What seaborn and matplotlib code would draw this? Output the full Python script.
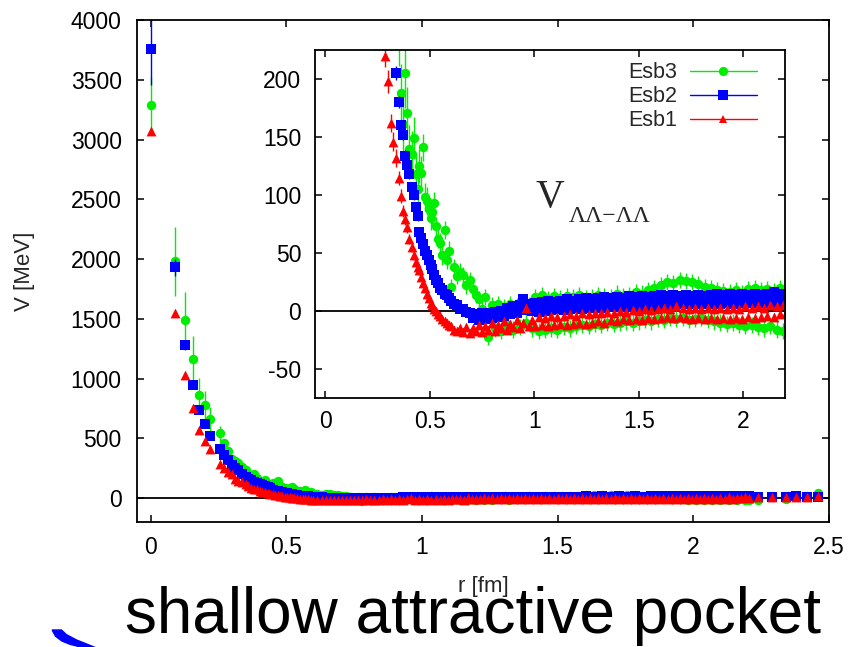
import matplotlib
matplotlib.use("Agg")
import matplotlib.pyplot as plt
from matplotlib.lines import Line2D
from matplotlib.patches import Polygon
import pandas as pd
import seaborn as sns

# ---------------- data ----------------
r_fm = [
    0.0, 0.09, 0.127, 0.156, 0.18, 0.201, 0.22, 0.255, 0.27, 0.285,
    0.30, 0.312, 0.324, 0.337, 0.35, 0.36, 0.371, 0.382, 0.392, 0.402,
    0.412, 0.422, 0.432, 0.441, 0.45, 0.459, 0.468, 0.477, 0.485, 0.494,
    0.503, 0.512, 0.52, 0.53, 0.54, 0.55, 0.56, 0.57, 0.58, 0.59,
    0.600, 0.615, 0.630, 0.645, 0.660, 0.675, 0.690, 0.705, 0.720, 0.735,
    0.750, 0.765, 0.780, 0.795, 0.810, 0.825, 0.840, 0.855, 0.870, 0.885,
    0.900, 0.915, 0.930, 0.945, 0.960, 0.975, 0.990,
    1.005, 1.020, 1.035, 1.050, 1.065, 1.080, 1.095, 1.110, 1.125, 1.140,
    1.155, 1.170, 1.185, 1.200, 1.215, 1.230, 1.245, 1.260, 1.275, 1.290,
    1.305, 1.320, 1.335, 1.350, 1.365, 1.380, 1.395, 1.410, 1.425, 1.440,
    1.455, 1.470, 1.485, 1.500, 1.515, 1.530, 1.545, 1.560, 1.575, 1.590,
    1.605, 1.620, 1.635, 1.650, 1.665, 1.680, 1.695, 1.710, 1.725, 1.740,
    1.755, 1.770, 1.785, 1.800, 1.815, 1.830, 1.845, 1.860, 1.875, 1.890,
    1.905, 1.920, 1.935, 1.950, 1.965, 1.980, 1.995, 2.010, 2.025, 2.040,
    2.055, 2.070, 2.085, 2.100, 2.115, 2.130, 2.145, 2.160, 2.175, 2.190,
    2.205,
    2.24, 2.29, 2.34, 2.38, 2.42, 2.46,
]

v_esb3 = [
    3286, 1980, 1492, 1160, 861, 777, 661, 541, 458, 395,
    330, 310, 290, 262, 236, 188, 161, 205, 171, 140,
    135, 149, 118, 105, 125, 119, 141, 98, 95, 88,
    80, 85, 93, 73, 62, 59, 48, 70, 44, 52,
    21, 38, 30, 34, 31, 22, 27, 19, 14, 10,
    2, 12, -22, 5, -15, 6, -17, 3, -12, 6,
    -16, 4, -14, 7, -10, 5, -15,
    12, -17, 14, -16, 10, -15, 13, -16, 11, -14,
    13, -15, 12, -13, 14, -12, 11, -13, 12, -11,
    14, -12, 13, -10, 12, -11, 15, -10, 13, -9,
    14, -10, 16, -9, 15, -8, 18, -9, 20, -7,
    22, -8, 25, -6, 24, -7, 27, -6, 26, -8,
    25, -7, 23, -6, 21, -8, 20, -9, 18, -10,
    17, -11, 16, -10, 18, -12, 15, -13, 19, -12,
    20, -14, 18, -15, 19, -13, 17, -16, 20, -17,
    -18,
    -15, 18, -10, 20, 15, 45,
]

v_esb2 = [
    3755, 1930, 1278, 950, 741, 619, 519, 408, 361, 318,
    280, 250, 232, 205, 180, 160, 152, 134, 126, 118,
    107, 100, 90, 82, 68, 63, 58, 52, 48, 44,
    40, 36, 31, 27, 24, 20, 18, 15, 14, 11,
    9, 6, 5, 2, 2, -1, -2, -6, -3, -8,
    -2, -7, -2, -6, -1, -5, 0, -4, 3, -3,
    4, -2, 5, 10, 1, 6, 0,
    7, -1, 8, 0, 9, 1, 8, 2, 9, 1,
    10, 2, 9, 3, 10, 2, 11, 3, 10, 4,
    11, 3, 12, 4, 11, 4, 12, 5, 11, 4,
    13, 5, 12, 4, 13, 5, 12, 6, 13, 5,
    14, 6, 13, 5, 14, 6, 13, 7, 14, 6,
    13, 6, 14, 7, 13, 6, 14, 7, 15, 6,
    14, 7, 15, 6, 14, 7, 15, 8, 14, 7,
    15, 8, 14, 7, 15, 8, 16, 7, 15, 8,
    15,
    10, 12, 8, 15, 10, 8,
]

v_esb1 = [
    3069, 1545, 1028, 750, 569, 480, 411, 283, 250, 220,
    198, 162, 146, 132, 115, 99, 86, 79, 72, 62,
    55, 48, 42, 38, 35, 29, 24, 20, 15, 11,
    7, 5, 2, 0, -3, -4, -7, -9, -10, -12,
    -13, -16, -17, -15, -18, -14, -19, -15, -17, -12,
    -18, -13, -16, -10, -17, -12, -15, -9, -16, -11,
    -14, -8, -15, -10, 3, -13, -8,
    -13, -5, -12, -6, -13, -4, -12, -5, -11, -4,
    -12, -3, -11, -4, -10, -2, -11, -3, -10, -2,
    -9, -2, -10, -1, -8, -2, -9, 0, -7, -1,
    -8, 1, -7, 0, -8, 2, -6, 1, -7, 2,
    -6, 3, -5, 2, -6, 4, -5, 3, -6, 2,
    -7, 3, -6, 2, -7, 3, -6, 2, -7, 3,
    -6, 2, -7, 3, -6, 2, -7, 4, -5, 3,
    -6, 4, -5, 3, -4, 5, -5, 4, -3, 5,
    -2,
    5, 8, 12, 13, 13, 16,
]

# error bars: individually read for the short-distance points, one typical
# size for the dense long-distance band
err_near_esb3 = [
    235, 290, 230, 200, 140, 120, 100, 60, 40, 30,
    30, 28, 25, 25, 25, 25, 25, 30, 22, 20,
    20, 18, 18, 15, 15, 15, 12, 12, 12, 10,
    10, 10, 10, 8, 8, 8, 8, 8, 8, 8,
]
err_far_esb3 = 7
err_near_esb2 = [
    300, 70, 40, 30, 20, 15, 12, 10, 8, 8,
    8, 6, 6, 6, 5, 5, 5, 5, 5, 4,
    4, 4, 4, 4, 4, 3, 3, 3, 3, 3,
    3, 3, 3, 3, 3, 3, 3, 3, 3, 3,
]
err_far_esb2 = 3
err_near_esb1 = [
    30, 20, 15, 12, 10, 10, 8, 10, 10, 10,
    10, 8, 8, 8, 6, 6, 5, 5, 5, 4,
    4, 4, 4, 4, 4, 3, 3, 3, 3, 3,
    3, 3, 3, 3, 3, 3, 3, 3, 3, 3,
]
err_far_esb1 = 3

series_names = ["Esb3", "Esb2", "Esb1"]
series_colors = ["#00ee00", "#0000ff", "#ff0000"]
series_markers = ["o", "s", "^"]

main_xticks = [0, 0.5, 1, 1.5, 2, 2.5]
main_xticklabels = ["0", "0.5", "1", "1.5", "2", "2.5"]
main_yticks = [0, 500, 1000, 1500, 2000, 2500, 3000, 3500, 4000]
main_yticklabels = ["0", "500", "1000", "1500", "2000", "2500", "3000", "3500", "4000"]
inset_xticks = [0, 0.5, 1, 1.5, 2]
inset_xticklabels = ["0", "0.5", "1", "1.5", "2"]
inset_yticks = [-50, 0, 50, 100, 150, 200]
inset_yticklabels = ["-50", "0", "50", "100", "150", "200"]

x_label = "r [fm]"
y_label = "V [MeV]"
inset_title_main = "V"
inset_title_sub = "\u039b\u039b\u2212\u039b\u039b"
caption = "shallow attractive pocket"

# ---------------- build table ----------------
frames = []
for name, vals, en, ef in zip(series_names, [v_esb3, v_esb2, v_esb1],
                              [err_near_esb3, err_near_esb2, err_near_esb1],
                              [err_far_esb3, err_far_esb2, err_far_esb1]):
    errs = en + [ef] * (len(r_fm) - len(en))
    frames.append(pd.DataFrame({"r": r_fm, "V": vals, "err": errs, "series": name}))
df = pd.concat(frames, ignore_index=True)

# ---------------- style ----------------
sns.set_theme(style="ticks")
plt.rcParams["font.family"] = ["Liberation Sans", "DejaVu Sans"]
plt.rcParams["axes.edgecolor"] = "black"
plt.rcParams["xtick.color"] = "black"
plt.rcParams["ytick.color"] = "black"

W, H = 852, 647
fig = plt.figure(figsize=(W / 100, H / 100), dpi=100)
fig.patch.set_facecolor("white")


def px_box(x0, y0, x1, y1):
    return [x0 / W, 1 - y1 / H, (x1 - x0) / W, (y1 - y0) / H]


ax = fig.add_axes(px_box(137, 20, 829, 522))
axin = fig.add_axes(px_box(315, 50, 785, 398))
axin.set_zorder(5)

sizes = {"o": 46, "s": 44, "^": 50}
TICK_FS = 16.5

for a in (ax, axin):
    a.axhline(0, color="black", lw=1.3, zorder=1)
    for i, (name, col, mk) in enumerate(zip(series_names, series_colors, series_markers)):
        sub = df[df["series"] == name]
        a.errorbar(sub["r"], sub["V"], yerr=sub["err"], fmt="none",
                   ecolor=col, elinewidth=1.0, capsize=0, zorder=2 + i * 0.2)
        sns.scatterplot(data=sub, x="r", y="V", ax=a, color=col, marker=mk,
                        s=sizes[mk], linewidth=0, legend=False, zorder=2.1 + i * 0.2)
    for sp in a.spines.values():
        sp.set_visible(True)
        sp.set_color("black")
        sp.set_linewidth(1.3)
    a.tick_params(direction="in", length=5, width=1.1, top=True, right=True,
                  labelsize=TICK_FS, colors="black")
    a.set_facecolor("white")

ax.set_xlim(-0.05, 2.5)
ax.set_ylim(-200, 4000)
ax.set_xticks(main_xticks, main_xticklabels)
ax.set_yticks(main_yticks, main_yticklabels)
ax.tick_params(axis="x", pad=10)
ax.tick_params(axis="y", pad=11)
ax.set_xlabel(x_label, fontsize=16)
ax.set_ylabel(y_label, fontsize=16)
ax.xaxis.set_label_coords(0.5, -0.108)
ax.yaxis.set_label_coords(-0.148, 0.5)

axin.set_xlim(-0.05, 2.2)
axin.set_ylim(-75, 225)
axin.set_xticks(inset_xticks, inset_xticklabels)
axin.set_yticks(inset_yticks, inset_yticklabels)
axin.tick_params(axis="x", pad=9)
axin.tick_params(axis="y", pad=10)
axin.set_xlabel("")
axin.set_ylabel("")

handles = [Line2D([], [], color=c, marker=m, lw=1.0,
                  markersize=6.6 if m != "^" else 6.0, markeredgewidth=0)
           for c, m in zip(series_colors, series_markers)]
axin.legend(handles, series_names, loc="upper right", bbox_to_anchor=(0.958, 0.99),
            borderaxespad=0, frameon=False, fontsize=15.5, markerfirst=False,
            handlelength=3.1, handletextpad=0.6, labelspacing=0.14)

fig.text(536 / W, 1 - 207 / H, inset_title_main, fontsize=28.5, zorder=20,
         family=["Liberation Serif", "DejaVu Serif"], va="baseline", ha="left")
fig.text(569 / W, 1 - 222 / H, inset_title_sub, fontsize=17, zorder=20,
         family=["Liberation Serif", "DejaVu Serif"], va="baseline", ha="left")

fig.text(125 / W, 1 - 633 / H, caption, fontsize=46, va="baseline", ha="left",
         color="black", zorder=20)

# blue swoosh fragment in the bottom-left corner
swoosh_px = [(61.7, 629.3), (66.7, 634.0), (76.7, 639.3), (86.7, 643.3), (95, 646.7),
             (101, 649), (80, 649), (76.7, 646.7), (70, 645), (61.7, 641.7),
             (55, 636.7), (51.7, 630.7), (52, 629.3)]
fig.patches.append(Polygon([(x / W, 1 - y / H) for x, y in swoosh_px], closed=True,
                           transform=fig.transFigure, facecolor="#0000ff",
                           edgecolor="none", figure=fig))

fig.savefig("out.png", dpi=100, facecolor="white")
